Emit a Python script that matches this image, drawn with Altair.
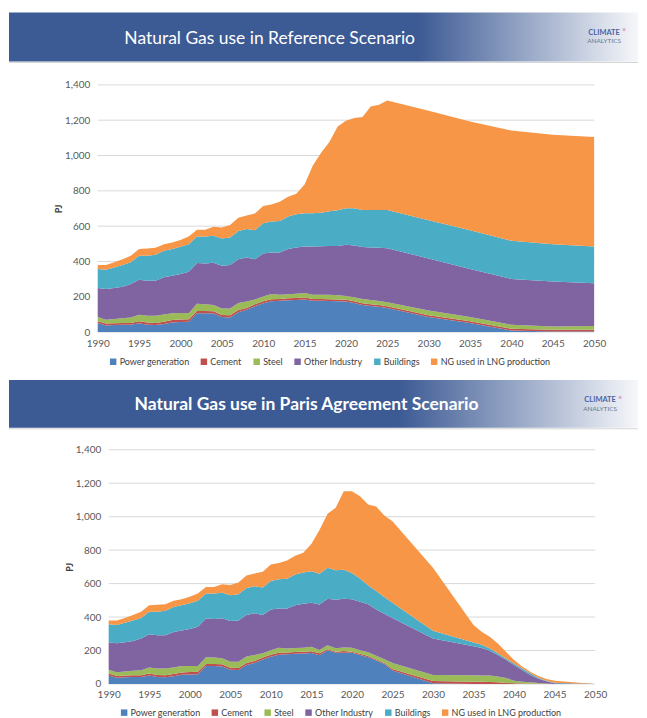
import altair as alt
import pandas as pd

# ---------------- data ----------------
series = ["Power generation", "Cement", "Steel", "Other Industry", "Buildings",
          "NG used in LNG production"]
colors = ["#4F81BD", "#C0504D", "#9BBB59", "#8064A2", "#4BACC6", "#F79646"]

y_ticks = [0, 200, 400, 600, 800, 1000, 1200, 1400]
x_ticks = [1990, 1995, 2000, 2005, 2010, 2015, 2020, 2025, 2030, 2035, 2040, 2045, 2050]

# historical part (1990-2015), identical in both scenarios
hist_years = list(range(1990, 2016))
hist_power = [51, 38, 40, 41, 41, 50, 42, 40, 46, 55, 57, 58, 107, 107, 105, 85, 83, 113, 126, 147, 163, 175, 177, 180, 182, 185]
hist_cement = [11, 10, 10, 11, 11, 12, 12, 12, 13, 14, 15, 15, 13, 13, 13, 12, 12, 12, 11, 11, 11, 11, 11, 11, 11, 11]
hist_steel = [23, 22, 24, 27, 30, 36, 38, 40, 40, 38, 36, 34, 40, 38, 36, 36, 38, 40, 36, 26, 28, 30, 24, 24, 24, 26]
hist_other = [165, 174, 176, 178, 190, 199, 199, 199, 211, 212, 221, 235, 231, 231, 239, 243, 247, 248, 250, 229, 243, 235, 239, 255, 262, 263]
hist_buildings = [107, 109, 116, 123, 123, 135, 141, 147, 150, 151, 154, 156, 150, 152, 152, 154, 156, 160, 161, 164, 171, 175, 178, 184, 188, 188]
hist_lng = [23, 27, 29, 33, 37, 38, 41, 39, 38, 37, 39, 43, 38, 38, 51, 62, 71, 75, 77, 94, 98, 97, 109, 113, 117, 163]

# Reference scenario (2016-2050)
ref_years = list(range(2016, 2026)) + [2030, 2035, 2040, 2045, 2050]
ref_power = [178, 177, 176, 174, 173, 165, 154, 148, 143, 137, 85, 51, 9, 3, 3]
ref_cement = [10, 10, 10, 10, 10, 10, 10, 10, 10, 10, 10, 10, 10, 10, 10]
ref_steel = [24, 25, 25, 25, 22, 23, 24, 24, 23, 22, 27, 24, 22, 19, 21]
ref_other = [273, 274, 276, 279, 289, 292, 294, 297, 301, 306, 295, 272, 260, 254, 242]
ref_buildings = [188, 190, 197, 202, 207, 211, 209, 212, 214, 216, 216, 220, 216, 212, 209]
ref_lng = [270, 339, 393, 475, 496, 511, 527, 587, 596, 621, 620, 616, 624, 620, 620]

# Paris Agreement scenario (2016-2050)
pa_years = list(range(2016, 2026)) + [2030, 2035, 2036, 2037, 2038, 2039, 2040, 2041, 2042, 2043, 2044, 2045, 2050]
pa_power = [171, 201, 187, 187, 187, 173, 160, 140, 120, 80, 4, 0, 0, 0, 0, 0, 0, 0, 0, 0, 0, 0, 0]
pa_cement = [12, 6, 6, 10, 6, 7, 7, 7, 6, 10, 14, 14, 13, 12, 10, 6, 4, 3, 2, 1, 1, 0, 0]
pa_steel = [20, 25, 20, 21, 23, 22, 22, 22, 22, 35, 36, 38, 38, 38, 34, 30, 16, 11, 8, 5, 2, 0, 0]
pa_other = [272, 278, 291, 292, 290, 289, 288, 276, 272, 270, 218, 174, 164, 149, 129, 109, 93, 70, 44, 26, 13, 4, 0]
pa_buildings = [184, 185, 175, 173, 157, 139, 113, 110, 100, 90, 46, 22, 20, 13, 10, 8, 10, 8, 10, 6, 4, 4, 0]
pa_lng = [262, 322, 374, 469, 489, 492, 482, 505, 487, 488, 377, 104, 77, 70, 59, 39, 20, 13, 9, 10, 10, 12, 0]


def build_df(years, cols):
    rows = []
    for i, yr in enumerate(years):
        for k, name in enumerate(series):
            rows.append({"year": yr, "series": name, "order": k, "value": cols[k][i]})
    return pd.DataFrame(rows)


ref_df = build_df(hist_years + ref_years,
                  [hist_power + ref_power, hist_cement + ref_cement, hist_steel + ref_steel,
                   hist_other + ref_other, hist_buildings + ref_buildings, hist_lng + ref_lng])
pa_df = build_df(hist_years + pa_years,
                 [hist_power + pa_power, hist_cement + pa_cement, hist_steel + pa_steel,
                  hist_other + pa_other, hist_buildings + pa_buildings, hist_lng + pa_lng])

FONT = "Lato"
BLUE = "#3C5A94"
one = alt.Data(values=[{}])


def panel(df, title, bold, w, h, xdomain, yoff, leg_x, leg_y, ban, title_pos, logo_pos, solid):
    x_enc = alt.X("year:Q", scale=alt.Scale(domain=xdomain, nice=False, zero=False),
                  axis=alt.Axis(values=x_ticks, format="d", title=None, grid=False, domain=False,
                                ticks=False, labelPadding=6, labelFlush=False))
    y_scale = alt.Scale(domain=[0, 1400], nice=False)
    y_axis = alt.Axis(values=y_ticks, format=",.0f", title="PJ", grid=False, domain=False,
                      ticks=False, labelPadding=8, offset=yoff, labelOverlap=False,
                      titleFontWeight="bold", titleFontSize=9, titleColor="#404040",
                      titlePadding=1)

    grid = alt.Chart(pd.DataFrame({"v": y_ticks})).mark_rule(color="#D9D9D9", strokeWidth=1).encode(
        x=alt.datum(1990),
        x2=alt.datum(2050),
        y=alt.Y("v:Q", scale=y_scale, axis=y_axis),
    )

    areas = alt.Chart(df).mark_area().encode(
        x=x_enc,
        y=alt.Y("value:Q", stack="zero", scale=y_scale, axis=y_axis),
        color=alt.Color("series:N", scale=alt.Scale(domain=series, range=colors),
                        legend=alt.Legend(orient="none", legendX=leg_x, legendY=leg_y,
                                          direction="horizontal", title=None, symbolType="square",
                                          symbolSize=42, symbolStrokeWidth=0, labelFontSize=9,
                                          labelFont=FONT, labelColor="#404040", columnPadding=10,
                                          labelOffset=2)),
        order=alt.Order("order:Q", sort="ascending"),
    )

    x1, x2, y1, y2 = ban
    grad = alt.Gradient(gradient="linear",
                        stops=[alt.GradientStop(offset=0, color=BLUE),
                               alt.GradientStop(offset=solid, color=BLUE),
                               alt.GradientStop(offset=1, color="#F6F7FA")],
                        x1=0, x2=1, y1=0, y2=0)
    banner = alt.Chart(one).mark_rect(fill=grad).encode(
        x=alt.value(x1), x2=alt.value(x2), y=alt.value(y1), y2=alt.value(y2))
    under = alt.Chart(one).mark_rule(color="#D4D4D4", strokeWidth=1).encode(
        x=alt.value(x1), x2=alt.value(x2), y=alt.value(y2 + 1))
    ttl = alt.Chart(one).mark_text(text=title, color="white", font=FONT, fontSize=17.5,
                                   fontWeight="bold" if bold else "normal",
                                   align="center", baseline="middle").encode(
        x=alt.value(title_pos[0]), y=alt.value(title_pos[1]))
    lx, ly = logo_pos
    logo1 = alt.Chart(one).mark_text(text="CLIMATE", color="#4A63A6", font=FONT, fontSize=7.5,
                                     fontWeight="bold", align="center", baseline="middle").encode(
        x=alt.value(lx), y=alt.value(ly))
    logo2 = alt.Chart(one).mark_text(text="ANALYTICS", color="#6E7687", font=FONT, fontSize=6.5,
                                     align="center", baseline="middle").encode(
        x=alt.value(lx), y=alt.value(ly + 8.5))
    dots = alt.Chart(one).mark_circle(size=10, opacity=0.8, color="#D79BC8").encode(
        x=alt.value(lx + 20), y=alt.value(ly - 3))

    return alt.layer(banner, under, ttl, logo1, logo2, dots, grid, areas).properties(width=w, height=h)


top = panel(ref_df, "Natural Gas use in  Reference Scenario", False, 498, 248, [1990, 2050], 0,
            11, 273, (-89, 542, -72.5, -23.5), (172.5, -46.5), (508, -52.5), 0.65)
bottom = panel(pa_df, "Natural Gas use in Paris Agreement Scenario", True, 499, 235, [1988.65, 2050], -11,
               22, 259, (-89, 542, -70, -22), (209.5, -45), (504, -49.5), 0.62)

chart = alt.vconcat(top, bottom, spacing=13).resolve_scale(color="independent").properties(
    padding={"top": 3, "left": 0, "right": 0, "bottom": 0}
).configure_view(stroke=None).configure_axis(
    labelFont=FONT, labelFontSize=10, labelColor="#595959", titleFont=FONT
)

chart.save("out.html", embed_options={"renderer": "svg", "actions": False})
